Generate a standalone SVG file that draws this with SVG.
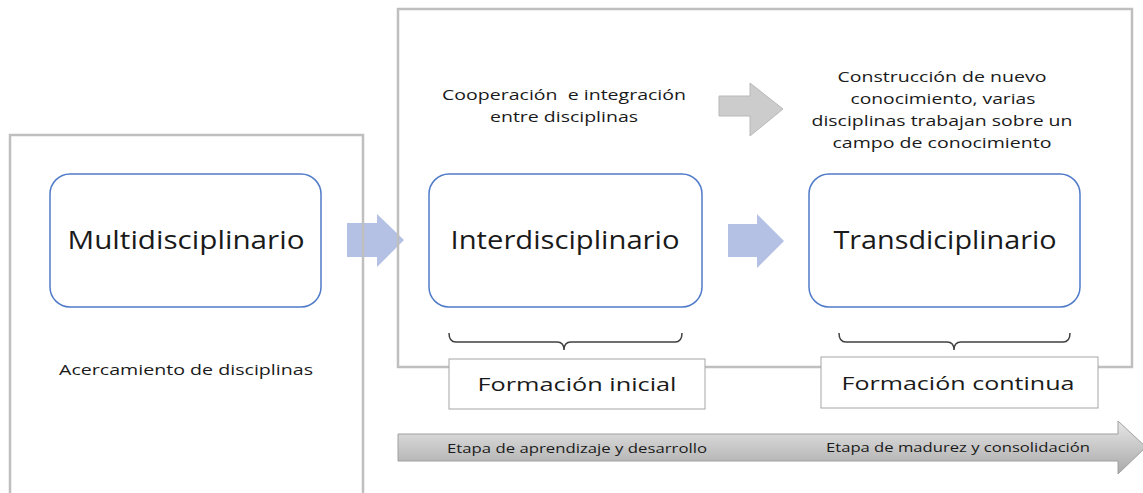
<svg xmlns="http://www.w3.org/2000/svg" width="1143" height="493" viewBox="0 0 1143 493">
<defs>
<linearGradient id="gArrow" x1="0" y1="0" x2="0" y2="1">
<stop offset="0" stop-color="#e6e6e6"/>
<stop offset="1" stop-color="#a9a9a9"/>
</linearGradient>
</defs>
<style>
.frame{fill:none;stroke:#bfbfbf;stroke-width:2.5}
.node{fill:#ffffff;stroke:#4f7bc9;stroke-width:1.5}
.lbl{fill:#ffffff;stroke:#a6a6a6;stroke-width:1}
.t{font-family:"Open Sans","Noto Sans","Liberation Sans",sans-serif;fill:#1a1a1a;text-anchor:middle}
.big{font-size:25px}
.mid{font-size:19px}
.sm{font-size:14px}
.xs{font-size:12px}
.pre{white-space:pre}
.brace{fill:none;stroke:#404040;stroke-width:1.5}
.blue{fill:#b4c1e4}
.grey{fill:#cccccc;stroke:#b8b8b8;stroke-width:1}
</style>
<rect x="0" y="0" width="1143" height="493" fill="#ffffff"/>
<g id="connectors">
<polygon class="blue" points="347,223 377,223 377,214 404,240 377,267 377,257 347,257"/>
<polygon class="blue" points="728,224 757,224 757,214 784,241 757,268 757,257 728,257"/>
<polygon class="grey" points="719,96 750,96 750,83 783,109 750,136 750,116 719,116"/>
<polygon fill="url(#gArrow)" stroke="#a0a0a0" stroke-width="1" points="398,434 1118,434 1118,421 1146,447 1118,474 1118,461 398,461"/>
</g>
<g id="multi-frame">
<rect class="frame" x="10" y="135" width="353" height="365"/>
</g>
<g id="inter-trans-frame">
<rect class="frame" x="398" y="9" width="734" height="358"/>
</g>
<g id="multidisciplinario">
<rect class="node" x="50" y="174" width="271" height="133" rx="20"/>
<text class="t big" x="186" y="249" textLength="237" lengthAdjust="spacingAndGlyphs">Multidisciplinario</text>
</g>
<g id="acercamiento">
<text class="t sm" x="186" y="375" textLength="254" lengthAdjust="spacingAndGlyphs">Acercamiento de disciplinas</text>
</g>
<g id="interdisciplinario">
<rect class="node" x="429" y="174" width="273" height="133" rx="20"/>
<text class="t big" x="565" y="249" textLength="229" lengthAdjust="spacingAndGlyphs">Interdisciplinario</text>
</g>
<g id="transdiciplinario">
<rect class="node" x="809" y="174" width="271" height="133" rx="20"/>
<text class="t big" x="945" y="249" textLength="223" lengthAdjust="spacingAndGlyphs">Transdiciplinario</text>
</g>
<g id="cooperacion">
<text class="t sm pre" x="564" y="100" textLength="244" lengthAdjust="spacingAndGlyphs">Cooperación  e integración</text>
<text class="t sm" x="564" y="122" textLength="148" lengthAdjust="spacingAndGlyphs">entre disciplinas</text>
</g>
<g id="construccion">
<text class="t sm" x="942" y="82" textLength="209" lengthAdjust="spacingAndGlyphs">Construcción de nuevo</text>
<text class="t sm" x="943" y="104" textLength="185" lengthAdjust="spacingAndGlyphs">conocimiento, varias</text>
<text class="t sm" x="942" y="126" textLength="261" lengthAdjust="spacingAndGlyphs">disciplinas trabajan sobre un</text>
<text class="t sm" x="942" y="148" textLength="219" lengthAdjust="spacingAndGlyphs">campo de conocimiento</text>
</g>
<g id="brace-inicial">
<path class="brace" d="M449,333 Q449,342 456,342 L557,342 Q564,342 564,350 Q564,342 571,342 L675,342 Q682,342 682,333"/>
</g>
<g id="brace-continua">
<path class="brace" d="M839,333 Q839,342 846,342 L947,342 Q954,342 954,350 Q954,342 961,342 L1063,342 Q1070,342 1070,333"/>
</g>
<g id="formacion-inicial">
<rect class="lbl" x="449" y="359" width="256" height="50"/>
<text class="t mid" x="577" y="391" textLength="199" lengthAdjust="spacingAndGlyphs">Formación inicial</text>
</g>
<g id="formacion-continua">
<rect class="lbl" x="821" y="357" width="277" height="51"/>
<text class="t mid" x="958" y="390" textLength="233" lengthAdjust="spacingAndGlyphs">Formación continua</text>
</g>
<g id="etapas">
<text class="t xs" x="577" y="453" textLength="260" lengthAdjust="spacingAndGlyphs">Etapa de aprendizaje y desarrollo</text>
<text class="t xs" x="958" y="452" textLength="264" lengthAdjust="spacingAndGlyphs">Etapa de madurez y consolidación</text>
</g>
</svg>
